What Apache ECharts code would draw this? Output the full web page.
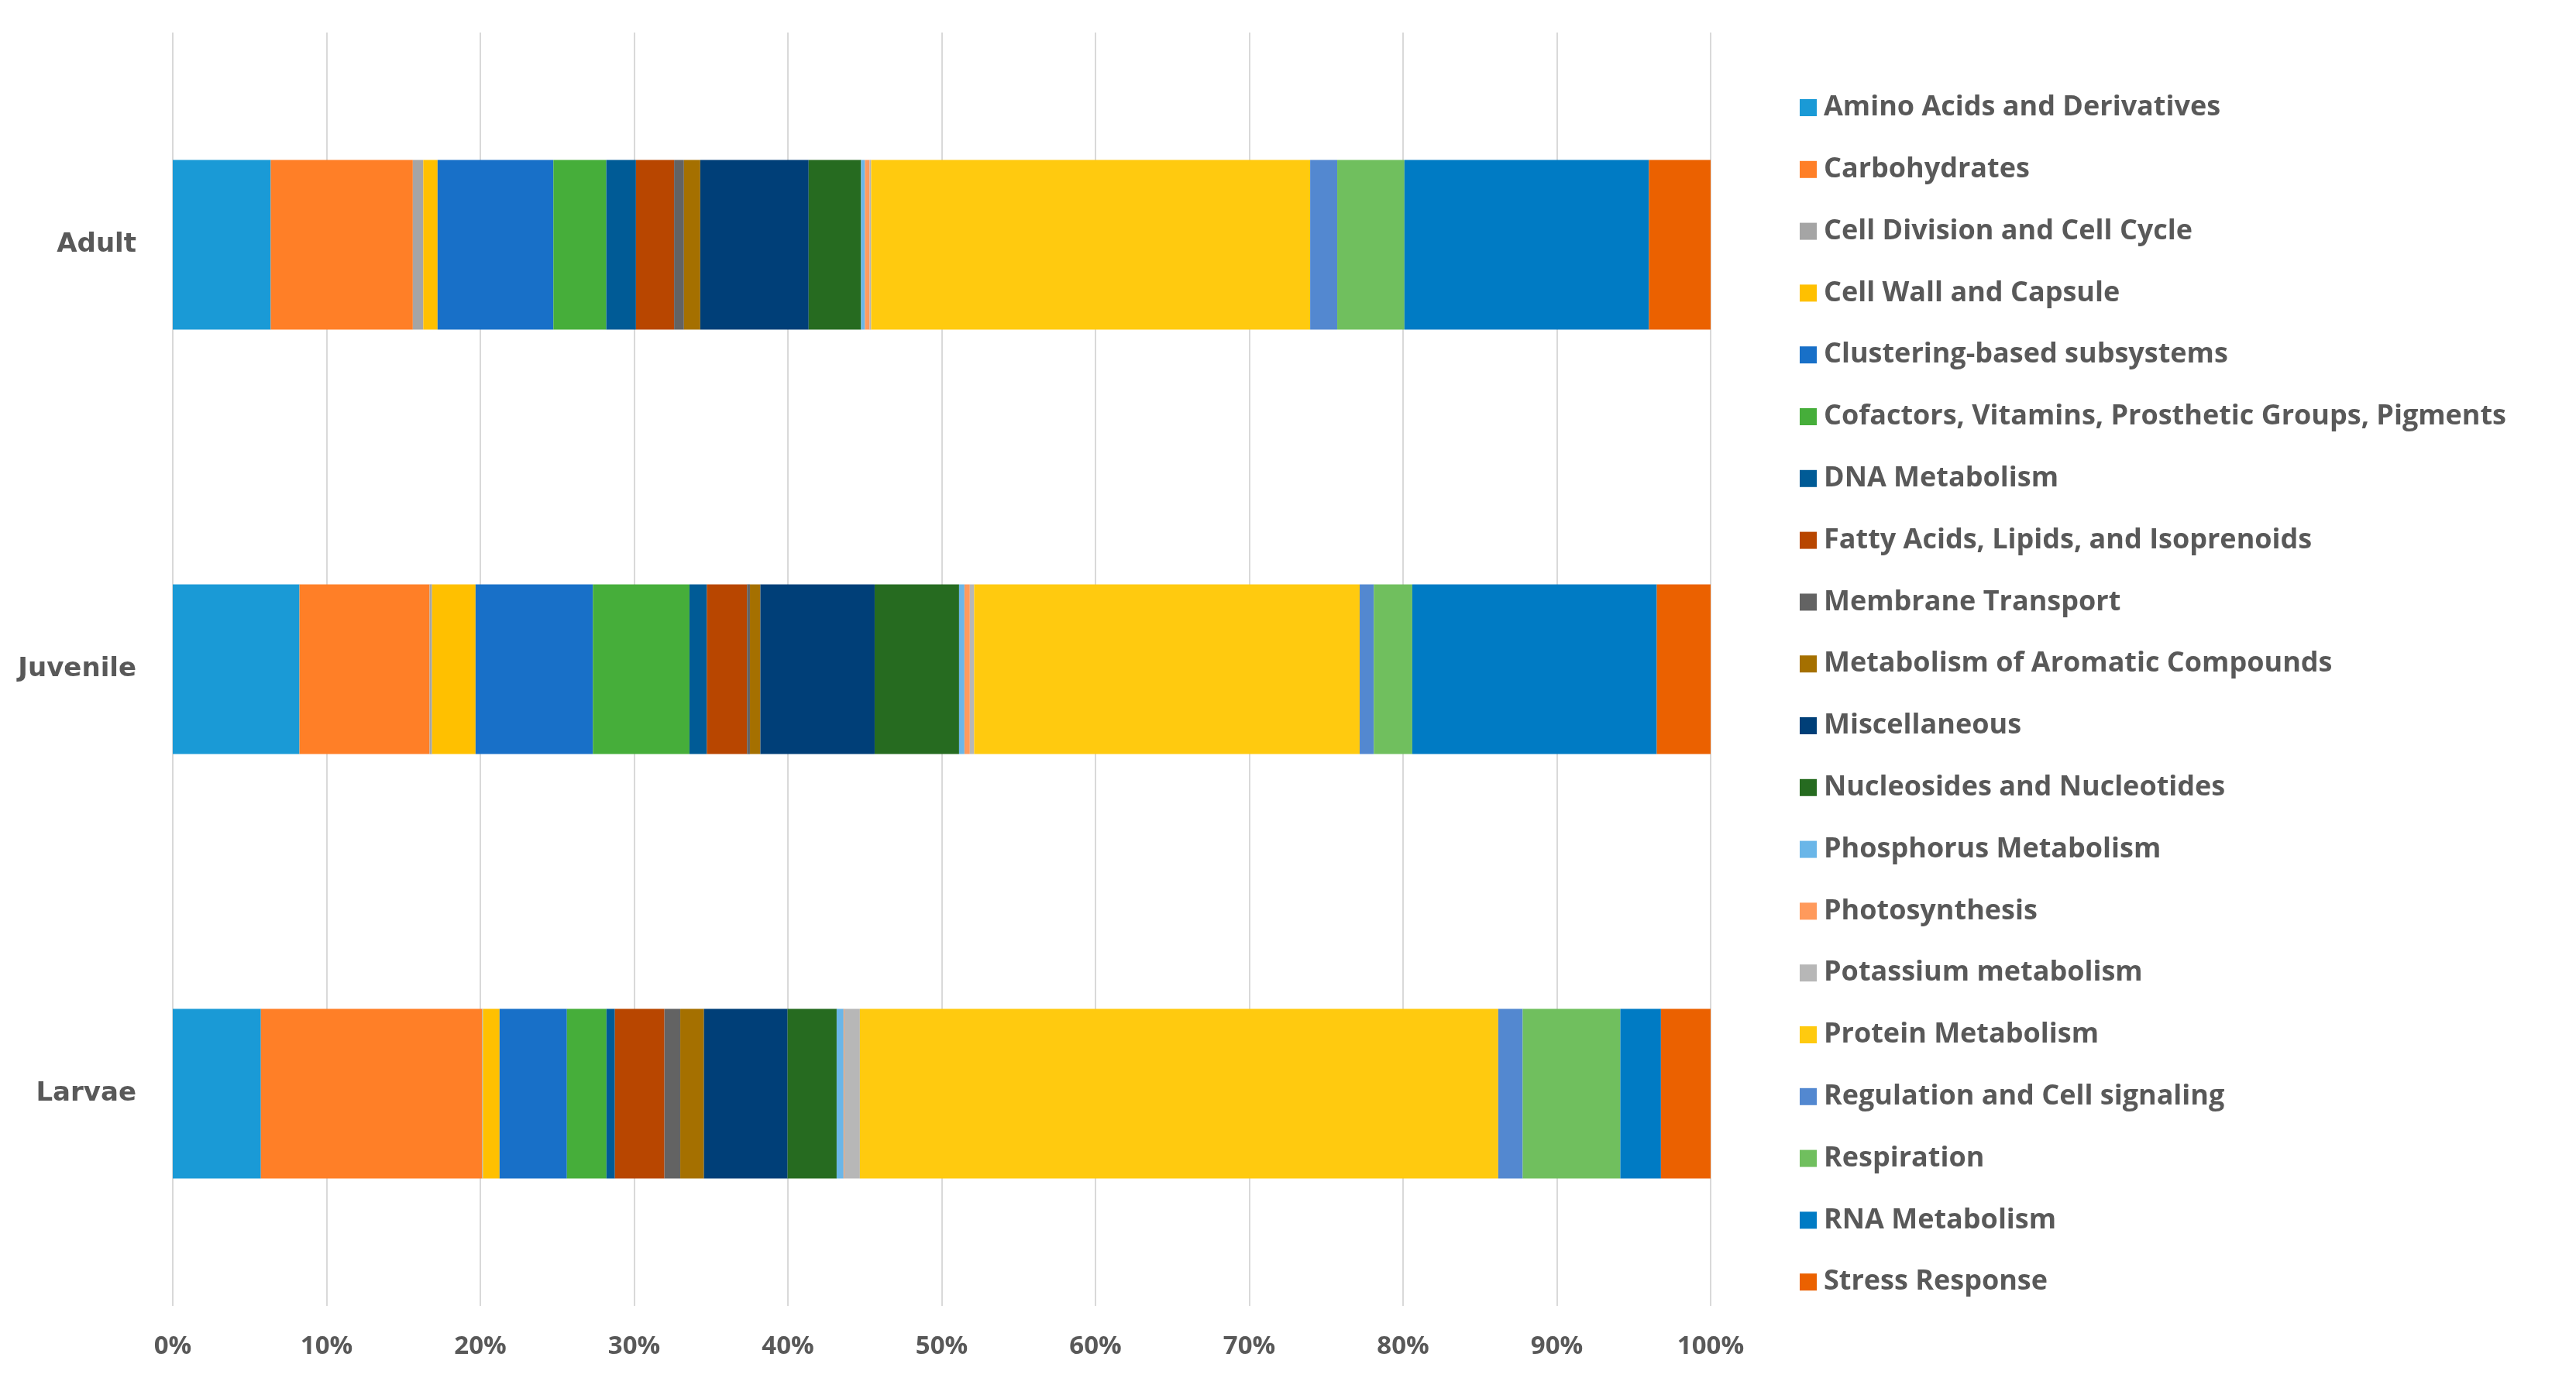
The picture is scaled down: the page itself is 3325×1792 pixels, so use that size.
<!DOCTYPE html>
<html>
<head>
<meta charset="utf-8">
<script src="https://cdn.jsdelivr.net/npm/echarts@6/dist/echarts.min.js"></script>
<style>
html,body{margin:0;padding:0;background:#fff;}
#chart{width:3325px;height:1792px;}
</style>
</head>
<body>
<div id="chart"></div>
<script>
const stages = ['Adult', 'Juvenile', 'Larvae'];
const categories = [
  'Amino Acids and Derivatives',
  'Carbohydrates',
  'Cell Division and Cell Cycle',
  'Cell Wall and Capsule',
  'Clustering-based subsystems',
  'Cofactors, Vitamins, Prosthetic Groups, Pigments',
  'DNA Metabolism',
  'Fatty Acids, Lipids, and Isoprenoids',
  'Membrane Transport',
  'Metabolism of Aromatic Compounds',
  'Miscellaneous',
  'Nucleosides and Nucleotides',
  'Phosphorus Metabolism',
  'Photosynthesis',
  'Potassium metabolism',
  'Protein Metabolism',
  'Regulation and Cell signaling',
  'Respiration',
  'RNA Metabolism',
  'Stress Response'
];
const adult    = [6.37, 9.24, 0.68, 0.93, 7.53, 3.44, 1.93, 2.48, 0.64, 1.06, 7.05, 3.41, 0.25, 0.30, 0.10, 28.55, 1.76, 4.37, 15.90, 4.01];
const juvenile = [8.24, 8.46, 0.16, 2.83, 7.63, 6.28, 1.13, 2.61, 0.19, 0.68, 7.43, 5.49, 0.35, 0.35, 0.28, 25.07, 0.92, 2.50, 15.90, 3.50];
const larvae   = [5.73, 14.39, 0.05, 1.08, 4.38, 2.57, 0.55, 3.22, 1.03, 1.54, 5.44, 3.19, 0.45, 0.05, 1.01, 41.51, 1.59, 6.35, 2.64, 3.23];
const xTicks = [0, 10, 20, 30, 40, 50, 60, 70, 80, 90, 100];
const colors = [
  '#1A9AD6', '#FF7F27', '#A5A5A5', '#FFC000', '#1870C8',
  '#46AE3A', '#005B96', '#B84600', '#636363', '#A57000',
  '#003F78', '#266B20', '#6AB6E8', '#FF9A5C', '#B7B7B7',
  '#FFCA0F', '#5388D0', '#70BF5E', '#007BC4', '#EB6100'
];

const chart = echarts.init(document.getElementById('chart'));
const series = categories.map((name, i) => ({
  name: name,
  type: 'bar',
  stack: 'total',
  barCategoryGap: '60%',
  itemStyle: { color: colors[i] },
  emphasis: { disabled: true },
  data: [adult[i], juvenile[i], larvae[i]]
}));

chart.setOption({
  backgroundColor: '#ffffff',
  animation: false,
  color: colors,
  grid: { left: 223, right: 1117, top: 42, bottom: 106, containLabel: false },
  xAxis: {
    type: 'value',
    min: xTicks[0],
    max: xTicks[xTicks.length - 1],
    interval: 10,
    axisLine: { show: false },
    axisTick: { show: false },
    splitLine: { show: true, lineStyle: { color: '#D9D9D9', width: 2 } },
    axisLabel: {
      formatter: v => v + '%',
      color: '#595959',
      fontFamily: 'Open Sans',
      fontWeight: 'bold',
      fontSize: 33,
      margin: 36
    }
  },
  yAxis: {
    type: 'category',
    data: stages,
    inverse: true,
    axisLine: { show: false },
    axisTick: { show: false },
    axisLabel: {
      color: '#595959',
      fontFamily: 'DejaVu Sans',
      fontWeight: 'bold',
      fontSize: 34,
      margin: 47
    }
  },
  legend: {
    orient: 'vertical',
    left: 2318,
    top: 116,
    itemWidth: 22,
    itemHeight: 22,
    itemGap: 43.8,
    icon: 'rect',
    textStyle: {
      color: '#595959',
      fontFamily: 'Open Sans',
      fontWeight: 'bold',
      fontSize: 36,
      lineHeight: 36,
      padding: [0, 0, 0, 4]
    },
    data: categories
  },
  series: series
});
</script>
</body>
</html>
